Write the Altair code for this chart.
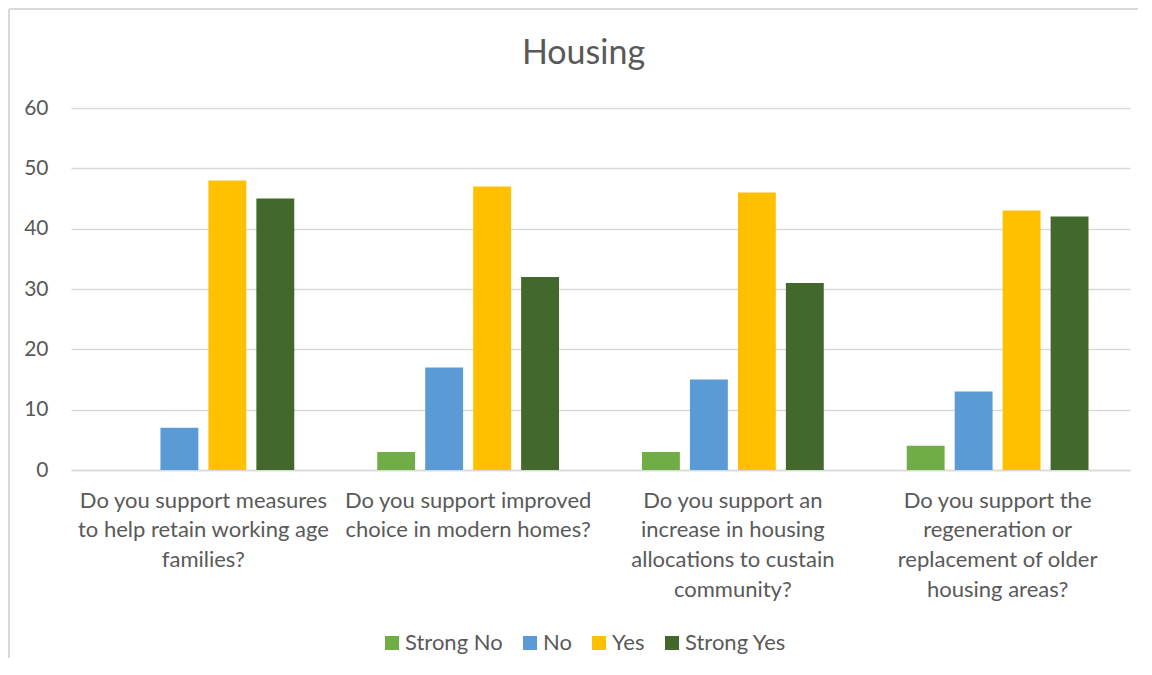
import altair as alt
import pandas as pd

categories = [
    "Do you support measures\nto help retain working age\nfamilies?",
    "Do you support improved\nchoice in modern homes?",
    "Do you support an\nincrease in housing\nallocations to custain\ncommunity?",
    "Do you support the\nregeneration or\nreplacement of older\nhousing areas?",
]
series = ["Strong No", "No", "Yes", "Strong Yes"]
strong_no = [0, 3, 3, 4]
no = [7, 17, 15, 13]
yes = [48, 47, 46, 43]
strong_yes = [45, 32, 31, 42]
colors = ["#70AD47", "#5B9BD5", "#FFC000", "#43682B"]

rows = []
for i, c in enumerate(categories):
    for s, vals in zip(series, [strong_no, no, yes, strong_yes]):
        rows.append({"question": c, "answer": s, "count": vals[i]})
df = pd.DataFrame(rows)

W, H = 1059, 362
PAD = {"left": 63, "top": 100, "right": 8, "bottom": 188}
FONT = "Lato"
GREY = "#595959"

bars = alt.Chart(df).mark_bar().encode(
    x=alt.X("question:N", sort=categories, title=None,
            scale=alt.Scale(paddingInner=0, paddingOuter=0),
            axis=alt.Axis(labelAngle=0, labelExpr="split(datum.label, '\\n')",
                          labelFontSize=22, labelFont=FONT, labelColor=GREY,
                          labelLineHeight=29.8, labelPadding=20, labelLimit=400,
                          ticks=False, domain=True, domainColor="#D9D9D9",
                          domainWidth=1.5, grid=False, labelBaseline="top")),
    xOffset=alt.XOffset("answer:N", sort=series,
                        scale=alt.Scale(paddingInner=0.21, paddingOuter=0.865)),
    y=alt.Y("count:Q", title=None,
            scale=alt.Scale(domain=[0, 60]),
            axis=alt.Axis(values=[0, 10, 20, 30, 40, 50, 60], labelFontSize=21,
                          labelFont=FONT, labelColor=GREY, labelPadding=23,
                          ticks=False, domain=False, gridColor="#D9D9D9",
                          gridWidth=1.3)),
    color=alt.Color("answer:N", sort=series,
                    scale=alt.Scale(domain=series, range=colors),
                    legend=alt.Legend(title=None, orient="none", legendX=310,
                                      legendY=524, direction="horizontal",
                                      symbolType="square", symbolSize=196,
                                      symbolStrokeWidth=0, labelFontSize=22,
                                      labelFont=FONT, labelColor=GREY,
                                      labelOffset=2, columnPadding=16)),
)

frame_data = alt.Data(values=[{"k": 0}])
left_edge = alt.Chart(frame_data).mark_rule(color="#D9D9D9", strokeWidth=2).encode(
    x=alt.value(-62), y=alt.value(-99), y2=alt.value(H + PAD["bottom"]))
top_edge = alt.Chart(frame_data).mark_rule(color="#D9D9D9", strokeWidth=2).encode(
    x=alt.value(-62), x2=alt.value(W + PAD["right"]), y=alt.value(-99))

chart = alt.layer(bars, left_edge, top_edge).properties(
    width=W, height=H,
    padding=PAD,
    autosize=alt.AutoSizeParams(type="none"),
    title=alt.TitleParams(text="Housing", fontSize=34, font=FONT, color=GREY,
                          fontWeight="normal", anchor="middle", dx=-17,
                          offset=-90, baseline="alphabetic"),
).configure_view(stroke=None)

chart.save("out.html", embed_options={"renderer": "svg", "actions": False})
